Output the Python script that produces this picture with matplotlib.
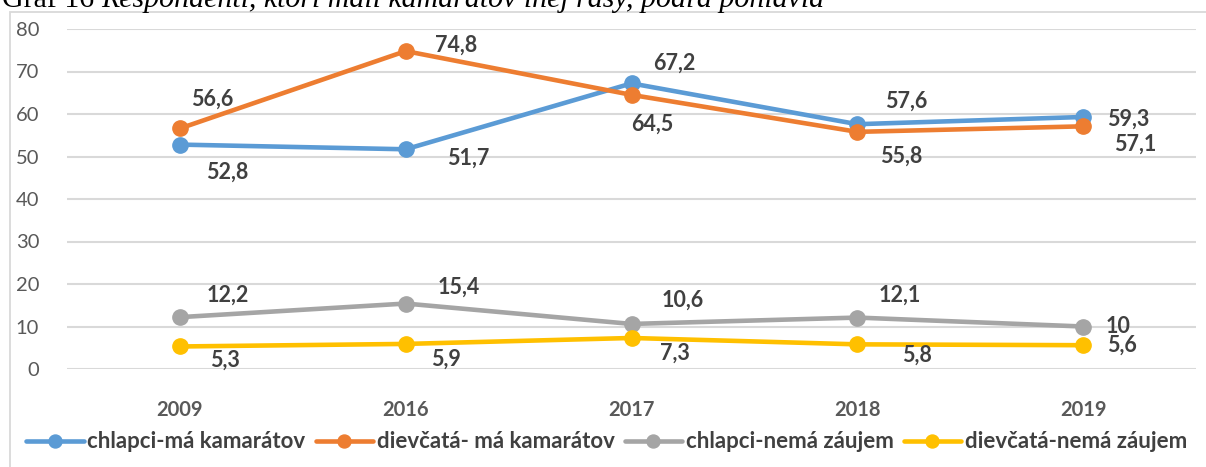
import matplotlib
matplotlib.use("Agg")
import matplotlib.pyplot as plt
from matplotlib.patches import Rectangle

years = ["2009", "2016", "2017", "2018", "2019"]
chlapci_ma = [52.8, 51.7, 67.2, 57.6, 59.3]
dievcata_ma = [56.6, 74.8, 64.5, 55.8, 57.1]
chlapci_nema = [12.2, 15.4, 10.6, 12.1, 10.0]
dievcata_nema = [5.3, 5.9, 7.3, 5.8, 5.6]
labels = ["chlapci-má kamarátov", "dievčatá- má kamarátov",
          "chlapci-nemá záujem", "dievčatá-nemá záujem"]
colors = ["#5B9BD5", "#ED7D31", "#A5A5A5", "#FFC000"]

# label offsets in pixels (dx, dy), dy positive = up
offsets = [
    [(47, -28), (63, -9), (43, 20), (49, 23), (45, -2)],
    [(32, 29), (50, 6), (21, -29), (44, -24), (52, -18)],
    [(48, 22), (53, 16), (51, 24), (42, 22), (35, 0)],
    [(45, -14), (40, -15), (43, -15), (60, -11), (39, 0)],
]

W, H = 1206, 467
fig = plt.figure(figsize=(W / 100, H / 100), dpi=100)
ax = fig.add_axes([67 / W, 1 - 369 / H, (1196 - 67) / W, (369 - 29) / H])

font = "Lato"
txt_col = "#404040"
tick_col = "#595959"

series = [chlapci_ma, dievcata_ma, chlapci_nema, dievcata_nema]
x = list(range(len(years)))
for vals, lab, col, offs in zip(series, labels, colors, offsets):
    ax.plot(x, vals, color=col, lw=3.3, marker="o", ms=11, label=lab,
            solid_capstyle="round", zorder=3)
    for xi, v, (dx, dy) in zip(x, vals, offs):
        s = ("%g" % v).replace(".", ",")
        ax.annotate(s, (xi, v), xytext=(dx, dy), textcoords="offset pixels",
                    ha="center", va="center", fontsize=15.5, fontweight="bold",
                    color=txt_col, family=font, zorder=4)

ax.set_xlim(-0.5, len(years) - 0.5)
ax.set_ylim(0, 80)
ax.set_yticks(range(0, 81, 10))
ax.set_xticks(x)
ax.set_xticklabels(years, fontweight="bold")
for t in ax.get_xticklabels() + ax.get_yticklabels():
    t.set_family(font)
    t.set_fontsize(14.5)
    t.set_color(tick_col)
ax.tick_params(axis="y", length=0, pad=20)
ax.tick_params(axis="x", length=0, pad=22)
ax.grid(axis="y", color="#D9D9D9", lw=1.5)
ax.set_axisbelow(True)
for sp in ax.spines.values():
    sp.set_visible(False)

leg = fig.legend(loc="center", bbox_to_anchor=(0.503, 1 - 442 / H), ncol=4,
                 frameon=False, handlelength=2.6, handletextpad=0.15,
                 columnspacing=0.45, markerscale=0.85,
                 prop={"family": font, "size": 16, "weight": "bold"})
for t in leg.get_texts():
    t.set_color(txt_col)

# chart frame
fig.patches.append(Rectangle((10 / W, -0.1), 1.2, 1 - 12 / H + 0.1,
                             transform=fig.transFigure, fill=False,
                             edgecolor="#D9D9D9", lw=1.3))

# cut-off caption at the top
t1 = fig.text(2 / W, 1 - 7 / H, "Graf 16 ", family="Liberation Serif",
              fontsize=21.5, va="baseline", ha="left")
fig.canvas.draw()
bb = t1.get_window_extent()
fig.text(bb.x1 / W, 1 - 7 / H,
         "Respondenti, ktorí mali kamarátov inej rasy, podľa pohlavia",
         family="Liberation Serif", style="italic", fontsize=21.5,
         va="baseline", ha="left")

fig.savefig("out.png", dpi=100)
